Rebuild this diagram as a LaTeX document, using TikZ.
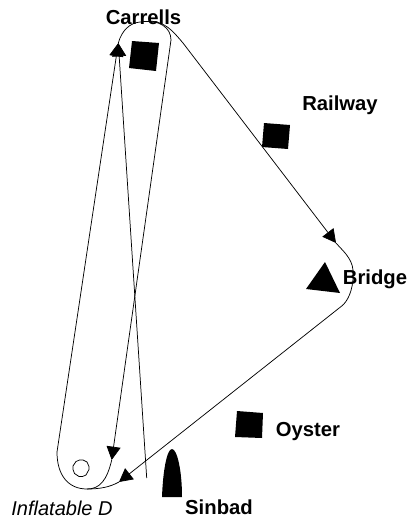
\documentclass[tikz,border=0pt]{standalone}
\usepackage{fontspec}
\setmainfont{Liberation Sans}
\usetikzlibrary{arrows.meta}
\tikzset{
  lab/.style={font=\bfseries\fontsize{15.2}{17}\selectfont,inner sep=0pt,text=black},
  ilab/.style={font=\itshape\fontsize{15}{17}\selectfont,inner sep=0pt,text=black},
  link/.style={line width=0.55pt,draw=black,-{Triangle[length=10pt,width=10.5pt]}},
  plain/.style={line width=0.55pt,draw=black},
  solid shape/.style={fill=black,draw=none}
}
\begin{document}
\begin{tikzpicture}[x=0.75pt,y=-0.75pt]
\useasboundingbox (0,0) rectangle (414,521);
\node[lab] (carrells) at (143.5,17) {Carrells};
\node[lab] (railway) at (340,105) {Railway};
\node[lab] (bridge) at (375,279) {Bridge};
\node[lab] (oyster) at (308,432) {Oyster};
\node[lab] (sinbad) at (219,507) {Sinbad};
\node[ilab] (inflatable) at (62,508) {Inflatable D};
\coordinate (topR) at (171,40);
\coordinate (topA) at (118.3,43);
\coordinate (botL) at (57,452);
\coordinate (botA) at (111.7,460);
\coordinate (botB) at (119,482);
\coordinate (bridgeA) at (336,243);
\coordinate (start) at (146.7,478);
% squares and marks
\fill[solid shape] (132,41) -- (159,43) -- (156,71) -- (129,68) -- cycle;
\fill[solid shape] (264,123) -- (290,125) -- (288,149) -- (262,147) -- cycle;
\fill[solid shape] (237,411) -- (263,413) -- (262,438) -- (235,437) -- cycle;
\fill[solid shape] (325,262) -- (306,289) -- (340,293) -- cycle;
\fill[solid shape] (162,497) .. controls (163,470) and (167,449) .. (172,449) .. controls (177,449) and (182,470) .. (182,497) -- cycle;
\draw[plain] (89,466.5) -- (89,469.5) -- (86,475) -- (82.5,476.5) -- (79,476.5) -- (74.5,473.5) -- (73,469.5) -- (73,466) -- (76,461.5) -- (79.5,460) -- (83,460) -- (87,462) -- cycle;
% route
\draw[link] (botL) -- (topA);
\draw[plain] (topA) .. controls (122,30) and (130,23) .. (140,22) .. controls (160,19) and (171,28) .. (171,40);
\draw[link] (topR) -- (botA);
\draw[plain] (botA) .. controls (107,480) and (100,489) .. (87,489) .. controls (68,489) and (57,475) .. (57,452);
\draw[link] (start) -- (topA);
\draw[link] (150,21) .. controls (165,22) and (172,30) .. (183,43) -- (bridgeA);
\draw[plain] (bridgeA) .. controls (342,250) and (352,258) .. (353,270) .. controls (354,285) and (350,298) .. (343,305);
\draw[link] (343,305) -- (botB);
\draw[plain] (botB) .. controls (110,487) and (100,489) .. (87,489);
\end{tikzpicture}
\end{document}
